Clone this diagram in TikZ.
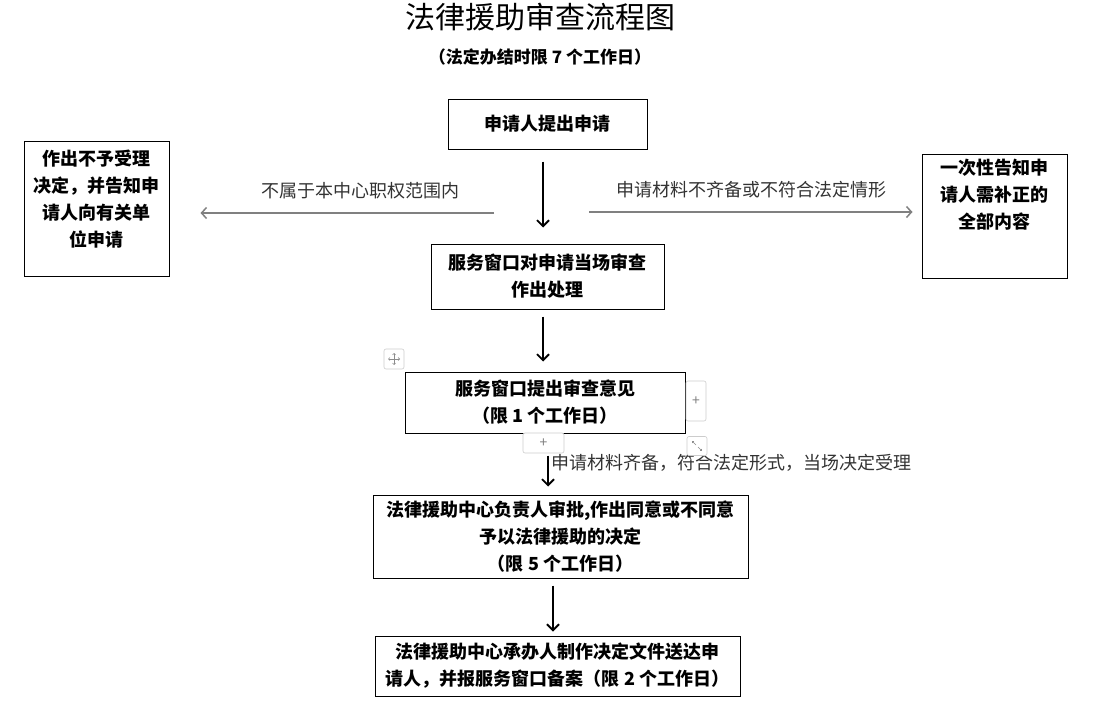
\documentclass[tikz,border=0pt]{standalone}
\usepackage{fontspec}
\setmainfont{Noto Sans CJK SC}
\usetikzlibrary{arrows.meta}
\newcommand{\boxfont}{\fontsize{18pt}{27pt}\selectfont\bfseries}
\newcommand{\labelfont}{\fontsize{18pt}{27pt}\selectfont}
\tikzset{
  stepbox/.style={rectangle,draw,line width=1pt,inner sep=0pt,align=center,font=\boxfont},
  mainarrow/.style={draw=black,line width=1.8pt,-{Straight Barb[length=6pt,width=12pt]}},
  sidearrow/.style={draw=black!50,line width=1.5pt,-{Straight Barb[length=5pt,width=11pt]}},
  arrowlabel/.style={font=\labelfont,text=black!80,inner sep=0pt},
  handlebox/.style={draw=black!20,line width=0.6pt,rounded corners=2pt,fill=white,text=black!50,inner sep=0pt,font=\fontsize{14pt}{14pt}\selectfont},
  handlemark/.style={draw=black!45,line width=0.6pt}
}
\begin{document}
\begin{tikzpicture}[x=1pt,y=-1pt,line join=miter]
            \useasboundingbox (0,0) rectangle (1095,720);
            %
            \node (title) at (540,17) [font=\fontsize{30pt}{30pt}\selectfont] {法律援助审查流程图};
            \node (subtitle) at (540,57) [font=\fontsize{17pt}{17pt}\selectfont\bfseries] {（法定办结时限 7 个工作日）};
            %
            \node (apply) at (547.5,124) [stepbox,minimum width=199pt,minimum height=50pt] {申请人提出申请};
            \node (refuse) at (96.5,208.5) [stepbox,minimum width=145pt,minimum height=135pt] {作出不予受理\\决定，并告知申\\请人向有关单\\位申请\\[-6pt]\mbox{}};
            \node (notify) at (994.5,216) [stepbox,minimum width=145pt,minimum height=124pt] {一次性告知申\\请人需补正的\\全部内容\\[17pt]\mbox{}};
            \node (window) at (547.5,276.5) [stepbox,minimum width=233pt,minimum height=65pt] {服务窗口对申请当场审查\\作出处理};
            \node (opinion) at (545,402.5) [stepbox,minimum width=280pt,minimum height=61pt] {服务窗口提出审查意见\\（限 1 个工作日）};
            \node (approve) at (560.5,536.5) [stepbox,minimum width=375pt,minimum height=83pt] {法律援助中心负责人审批,作出同意或不同意\\予以法律援助的决定\\（限 5 个工作日）};
            \node (deliver) at (557.5,666) [stepbox,minimum width=365pt,minimum height=60pt] {法律援助中心承办人制作决定文件送达申\\请人，并报服务窗口备案（限 2 个工作日）};
            %
            \coordinate (leftfrom) at (494,213);
            \coordinate (rightfrom) at (589,212);
            %
            \draw [mainarrow,shorten <=12pt,shorten >=16pt] ([xshift=-4.5pt]apply.south) to ([xshift=-4.5pt]apply.south |- window.north);
            \draw [sidearrow,shorten >=31pt] (leftfrom) to node[arrowlabel,above=13pt,pos=0.41] {不属于本中心职权范围内} (leftfrom -| refuse.east);
            \draw [sidearrow,shorten >=9pt] (rightfrom) to node[arrowlabel,above=13pt,pos=0.49] {申请材料不齐备或不符合法定情形} (rightfrom -| notify.west);
            \draw [mainarrow,shorten <=7pt,shorten >=10pt] ([xshift=-4.5pt]window.south) to ([xshift=-4.5pt]window.south |- opinion.north);
            \draw [mainarrow,shorten <=22pt,shorten >=8pt] ([xshift=3pt]opinion.south) to node[arrowlabel,right=3pt,pos=0.48] {申请材料齐备，符合法定形式，当场决定受理} ([xshift=3pt]opinion.south |- approve.north);
            \draw [mainarrow,shorten <=7pt,shorten >=4pt] ([xshift=-7.5pt]approve.south) to ([xshift=-7.5pt]approve.south |- deliver.north);
            %
            % handles left on the table
            \node (movehandle) at (394,359) [handlebox,minimum width=20pt,minimum height=20pt] {};
            \draw [handlemark,{Straight Barb[length=1.5pt,width=3pt]}-{Straight Barb[length=1.5pt,width=3pt]}] ([xshift=-6pt]movehandle.center) to ([xshift=6pt]movehandle.center);
            \draw [handlemark,{Straight Barb[length=1.5pt,width=3pt]}-{Straight Barb[length=1.5pt,width=3pt]}] ([yshift=-6pt]movehandle.center) to ([yshift=6pt]movehandle.center);
            \node (plusright) at (696,401) [handlebox,minimum width=20pt,minimum height=40pt] {+};
            \node (plusbottom) at (543.5,443) [handlebox,minimum width=41pt,minimum height=20pt] {+};
            \node (resizehandle) at (697,446) [handlebox,minimum width=20pt,minimum height=19pt] {};
            \draw [handlemark,-{Straight Barb[length=1.5pt,width=3pt]}] ([xshift=-1pt,yshift=1pt]resizehandle.center) to ([xshift=-5pt,yshift=5pt]resizehandle.center);
            \draw [handlemark,-{Straight Barb[length=1.5pt,width=3pt]}] ([xshift=1pt,yshift=-1pt]resizehandle.center) to ([xshift=5pt,yshift=-5pt]resizehandle.center);
            %
        \end{tikzpicture}
\end{document}
